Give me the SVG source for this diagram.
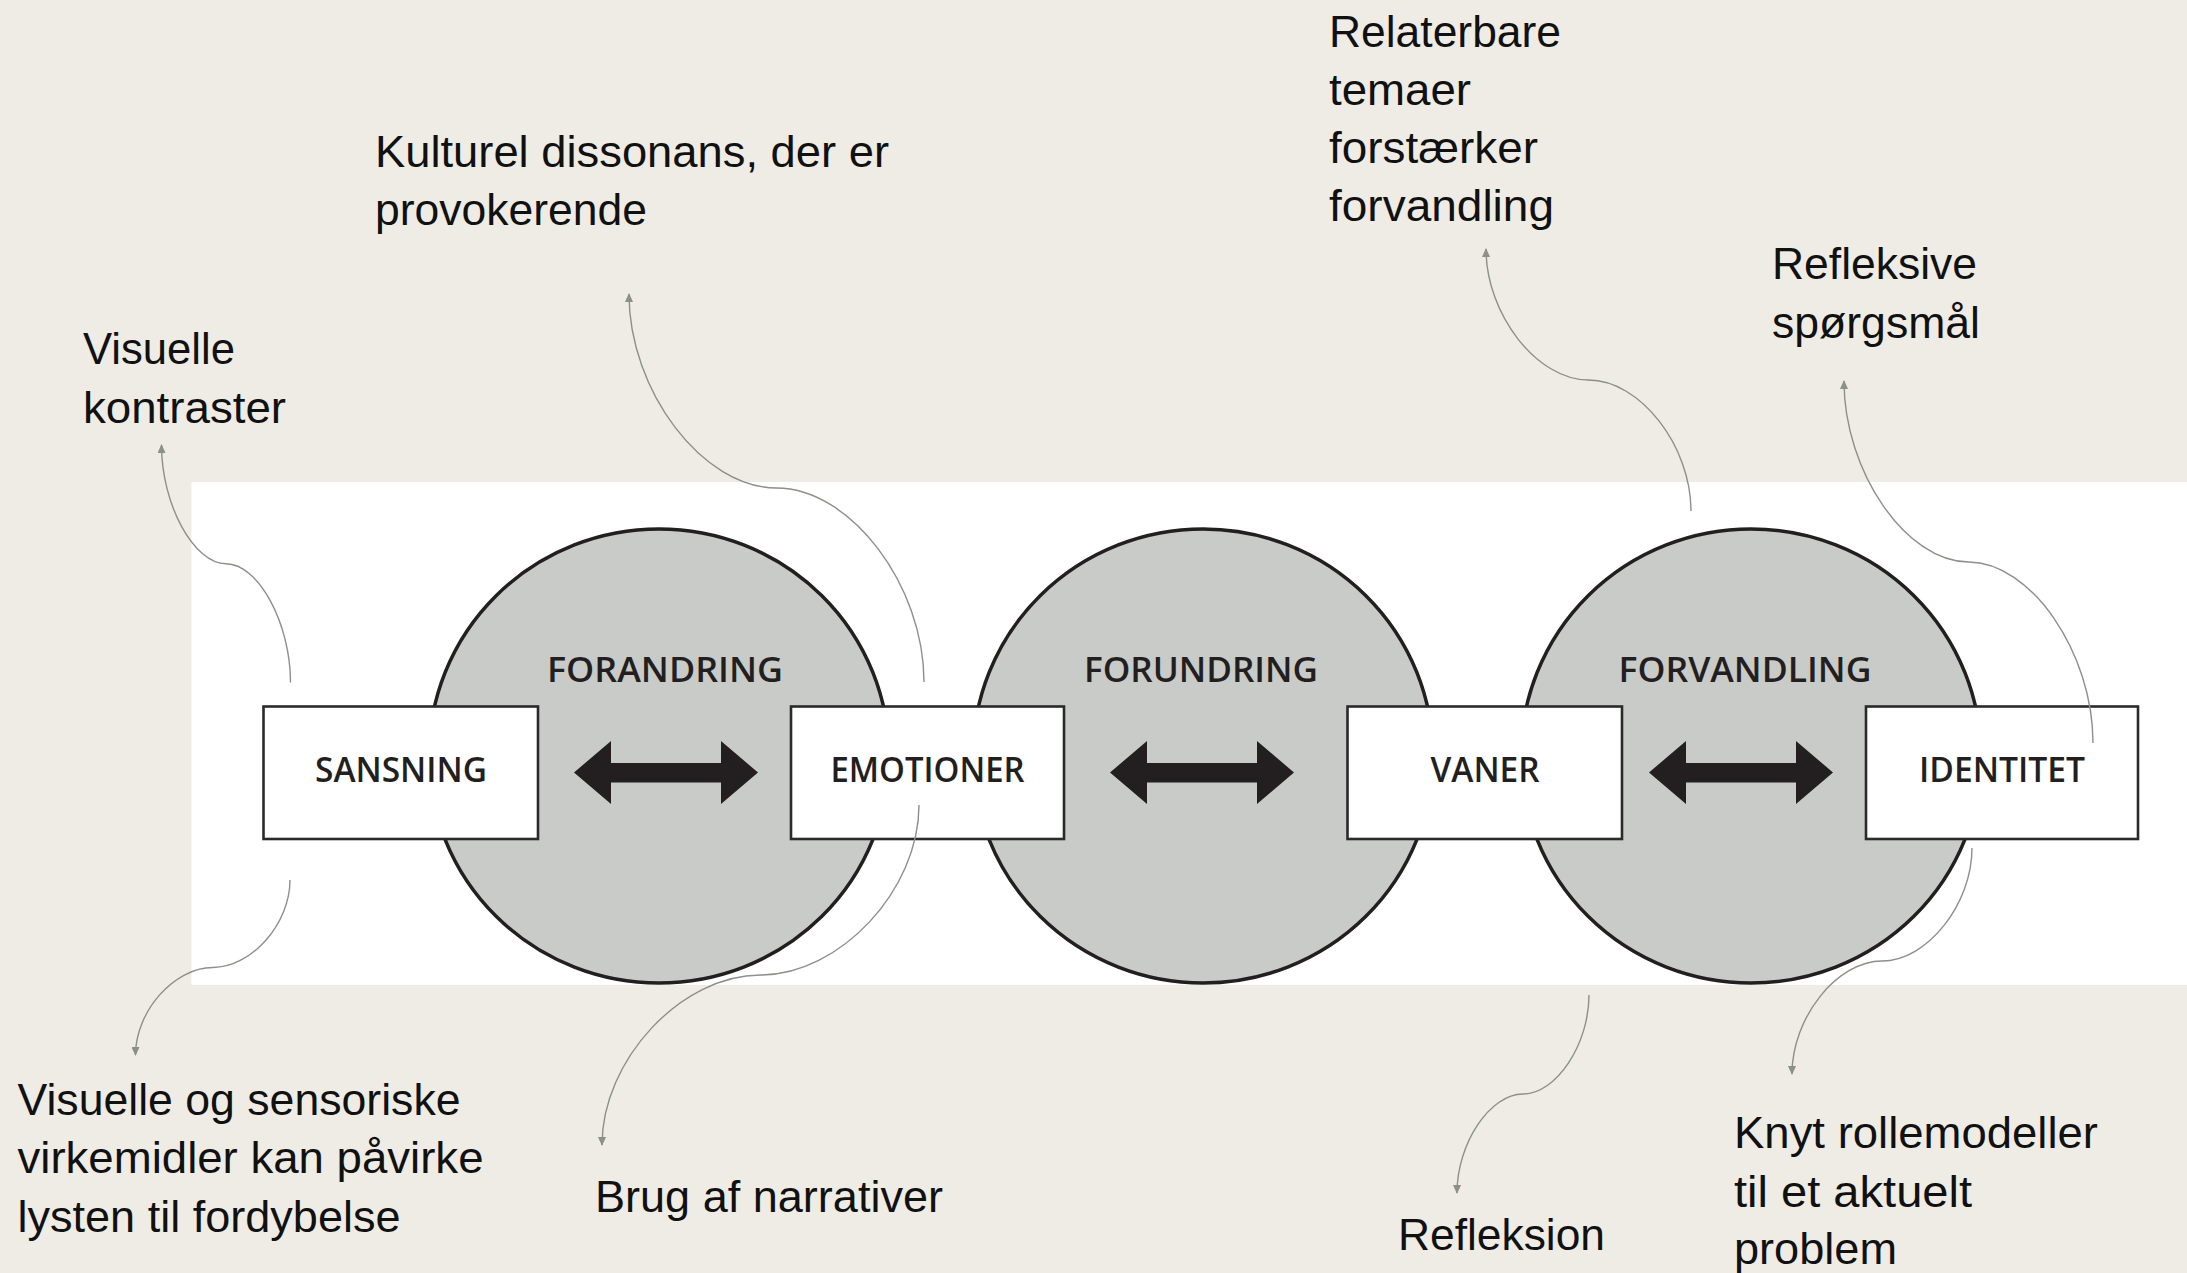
<svg xmlns="http://www.w3.org/2000/svg" width="2187" height="1273" viewBox="0 0 2187 1273">
<style>
.note{font-family:"Liberation Sans",Arial,sans-serif;font-size:44px;fill:#111111;}
.lbl{font-family:"Open Sans","Liberation Sans",sans-serif;font-weight:600;font-size:34px;fill:#231f20;text-anchor:middle;}
.circ{fill:#c9cbc9;stroke:#231f20;stroke-width:3.5;}
.box{fill:#ffffff;stroke:#2a2a2a;stroke-width:2.6;}
.dbl{fill:#231f20;}
.con{fill:none;stroke:#8c8f8a;stroke-width:1.4;marker-end:url(#ah);}
</style>
<defs>
<marker id="ah" markerUnits="userSpaceOnUse" markerWidth="9" markerHeight="8" viewBox="0 0 9 8" refX="8" refY="4" orient="auto">
<path d="M0,0 L9,4 L0,8 Z" fill="#8c8f8a"/>
</marker>
</defs>
<rect x="0" y="0" width="2187" height="1273" fill="#eeece5"/>
<rect x="191.5" y="482" width="1995.5" height="503" fill="#ffffff"/>

<g id="circle-forandring">
<ellipse class="circ" cx="659" cy="756" rx="230" ry="227"/>
<text class="lbl" x="665" y="682" textLength="236" lengthAdjust="spacingAndGlyphs">FORANDRING</text>
<path class="dbl" d="M574,772.5 L611,741 L611,763 L721,763 L721,741 L758,772.5 L721,804 L721,782.5 L611,782.5 L611,804 Z"/>
</g>
<g id="circle-forundring">
<ellipse class="circ" cx="1203" cy="756" rx="230" ry="227"/>
<text class="lbl" x="1201" y="682" textLength="234" lengthAdjust="spacingAndGlyphs">FORUNDRING</text>
<path class="dbl" d="M1110,772.5 L1147,741 L1147,763 L1257,763 L1257,741 L1294,772.5 L1257,804 L1257,782.5 L1147,782.5 L1147,804 Z"/>
</g>
<g id="circle-forvandling">
<ellipse class="circ" cx="1751" cy="756" rx="230" ry="227"/>
<text class="lbl" x="1745" y="682" textLength="253" lengthAdjust="spacingAndGlyphs">FORVANDLING</text>
<path class="dbl" d="M1649,772.5 L1686,741 L1686,763 L1796,763 L1796,741 L1833,772.5 L1796,804 L1796,782.5 L1686,782.5 L1686,804 Z"/>
</g>

<g id="box-sansning">
<rect class="box" x="263.5" y="706.5" width="274.5" height="132.5"/>
<text class="lbl" x="401" y="781.7" textLength="172" lengthAdjust="spacingAndGlyphs">SANSNING</text>
</g>
<g id="box-emotioner">
<rect class="box" x="791" y="706.5" width="273" height="132.5"/>
<text class="lbl" x="927.5" y="781.7" textLength="194" lengthAdjust="spacingAndGlyphs">EMOTIONER</text>
</g>
<g id="box-vaner">
<rect class="box" x="1347.5" y="706.5" width="274.5" height="132.5"/>
<text class="lbl" x="1485" y="781.7" textLength="109" lengthAdjust="spacingAndGlyphs">VANER</text>
</g>
<g id="box-identitet">
<rect class="box" x="1866" y="706.5" width="272" height="132.5"/>
<text class="lbl" x="2002" y="781.7" textLength="166" lengthAdjust="spacingAndGlyphs">IDENTITET</text>
</g>

<g id="connectors">
<path class="con" d="M290.5,682.5 C290.5,623.1 258.3,563.8 226,563.8 C193.8,563.8 161.5,504.4 161.5,445"/>
<path class="con" d="M924,682 C924,585 850.3,488 776.5,488 C702.8,488 629,391 629,294"/>
<path class="con" d="M1691,511 C1691,445.5 1639.8,380 1588.5,380 C1537.3,380 1486,314.5 1486,249"/>
<path class="con" d="M2093,743 C2093,652.5 2030.8,562 1968.5,562 C1906.3,562 1844,471.5 1844,381"/>
<path class="con" d="M290,880 C290,923.8 251.4,967.5 212.8,967.5 C174.1,967.5 135.5,1011.3 135.5,1055"/>
<path class="con" d="M919,805 C919,890 839.8,975 760.5,975 C681.3,975 602,1060 602,1145"/>
<path class="con" d="M1589,995 C1589,1044.5 1556,1094 1523,1094 C1490,1094 1457,1143.5 1457,1193"/>
<path class="con" d="M1972,848 C1972,904.5 1927,961 1882,961 C1837,961 1792,1017.5 1792,1074"/>
</g>

<g id="note-visuelle-kontraster">
<text class="note" x="83" y="364" textLength="152" lengthAdjust="spacingAndGlyphs">Visuelle</text>
<text class="note" x="83" y="422.7" textLength="203" lengthAdjust="spacingAndGlyphs">kontraster</text>
</g>
<g id="note-kulturel">
<text class="note" x="375" y="166.5" textLength="514" lengthAdjust="spacingAndGlyphs">Kulturel dissonans, der er</text>
<text class="note" x="375" y="225" textLength="272" lengthAdjust="spacingAndGlyphs">provokerende</text>
</g>
<g id="note-relaterbare">
<text class="note" x="1329" y="47" textLength="232" lengthAdjust="spacingAndGlyphs">Relaterbare</text>
<text class="note" x="1329" y="105" textLength="142" lengthAdjust="spacingAndGlyphs">temaer</text>
<text class="note" x="1329" y="163" textLength="209" lengthAdjust="spacingAndGlyphs">forstærker</text>
<text class="note" x="1329" y="221" textLength="225" lengthAdjust="spacingAndGlyphs">forvandling</text>
</g>
<g id="note-refleksive">
<text class="note" x="1772" y="279.3" textLength="205" lengthAdjust="spacingAndGlyphs">Refleksive</text>
<text class="note" x="1772" y="338" textLength="208" lengthAdjust="spacingAndGlyphs">spørgsmål</text>
</g>
<g id="note-visuelle-sensoriske">
<text class="note" x="17.5" y="1115" textLength="443" lengthAdjust="spacingAndGlyphs">Visuelle og sensoriske</text>
<text class="note" x="17.5" y="1173.3" textLength="466" lengthAdjust="spacingAndGlyphs">virkemidler kan påvirke</text>
<text class="note" x="17.5" y="1231.7" textLength="383" lengthAdjust="spacingAndGlyphs">lysten til fordybelse</text>
</g>
<g id="note-brug">
<text class="note" x="595" y="1211.7" textLength="348" lengthAdjust="spacingAndGlyphs">Brug af narrativer</text>
</g>
<g id="note-refleksion">
<text class="note" x="1398" y="1250" textLength="207" lengthAdjust="spacingAndGlyphs">Refleksion</text>
</g>
<g id="note-knyt">
<text class="note" x="1734" y="1147.7" textLength="364" lengthAdjust="spacingAndGlyphs">Knyt rollemodeller</text>
<text class="note" x="1734" y="1206.7" textLength="238" lengthAdjust="spacingAndGlyphs">til et aktuelt</text>
<text class="note" x="1734" y="1264.3" textLength="163" lengthAdjust="spacingAndGlyphs">problem</text>
</g>
</svg>
